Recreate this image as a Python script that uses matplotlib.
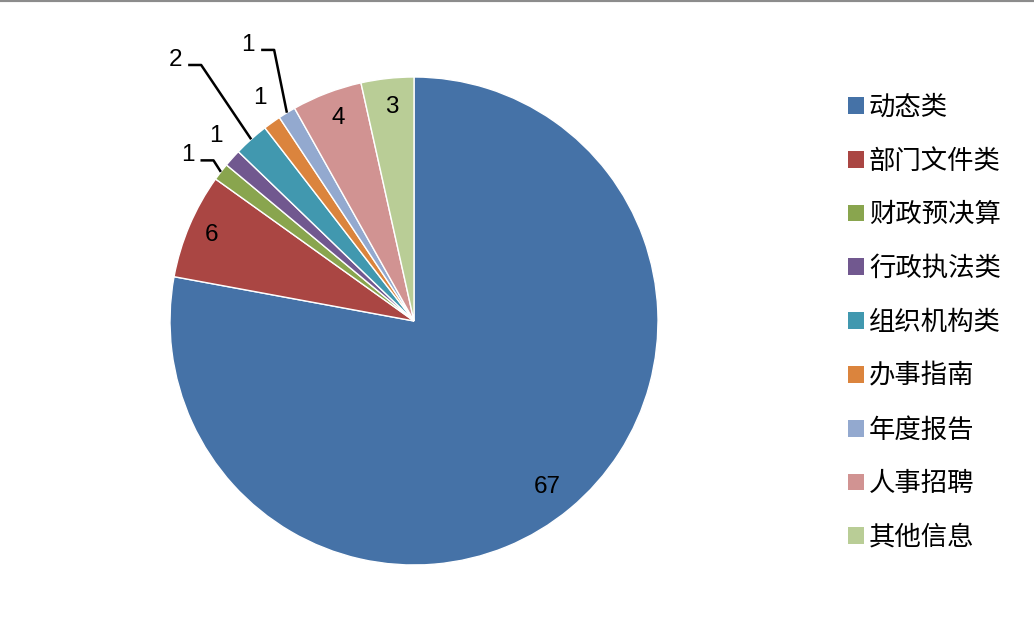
import numpy as np
import matplotlib
matplotlib.use("Agg")
import matplotlib.pyplot as plt
from matplotlib.patches import Patch

plt.rcParams['font.family'] = ['Noto Sans CJK SC', 'DejaVu Sans']

# data
categories = ["动态类", "部门文件类", "财政预决算", "行政执法类", "组织机构类",
              "办事指南", "年度报告", "人事招聘", "其他信息"]
counts = [67, 6, 1, 1, 2, 1, 1, 4, 3]
colors = ["#4572A7", "#AA4643", "#89A54E", "#71588F", "#4198AF",
          "#DB843D", "#93A9CF", "#D19392", "#B9CD96"]

# label layout: radius (fraction of R), angle tweak (deg), leader line or not
label_r = [0.87, 0.90, 1.15, 1.11, 1.45, 1.11, 1.32, 0.89, 0.88]
label_da = [-1.0, 0.0, 1.5, -1.2, 0.6, -1.0, -0.4, -0.4, -0.3]
leader = [False, False, True, False, True, False, True, False, False]

W, H = 1034, 631
fig = plt.figure(figsize=(W / 100, H / 100), dpi=100)
ax = fig.add_axes([0, 0, 1, 1])

cx, cy, R = 414, 310, 244
wedges, _ = ax.pie(counts, colors=colors, startangle=90, counterclock=False,
                   center=(cx, cy), radius=R, frame=True,
                   wedgeprops=dict(edgecolor='white', linewidth=1))
ax.set_xlim(0, W)
ax.set_ylim(0, H)
ax.set_aspect('equal')
ax.axis('off')

for w, n, r, da, ld in zip(wedges, counts, label_r, label_da, leader):
    mid = np.deg2rad((w.theta1 + w.theta2) / 2 + da)
    mid0 = np.deg2rad((w.theta1 + w.theta2) / 2)
    lx, ly = cx + r * R * np.cos(mid), cy + r * R * np.sin(mid)
    ax.text(lx, ly, str(n), ha='center', va='center', fontsize=17.5,
            family='Liberation Sans', color='black')
    if ld:
        # leader line: short horizontal stub, then down to the wedge edge
        ex, ey = cx + R * np.cos(mid0), cy + R * np.sin(mid0)
        ax.plot([lx + 13, lx + 26, ex], [ly - 5, ly - 5, ey],
                color='black', lw=1.8, solid_capstyle='butt')

handles = [Patch(facecolor=c, edgecolor='none') for c in colors]
leg = fig.legend(handles, categories, loc='upper left',
                 bbox_to_anchor=(824 / W, 1 - 70 / H), frameon=False,
                 fontsize=19, handlelength=0.6, handleheight=0.6,
                 handletextpad=0.2, labelspacing=1.015)

fig.add_artist(plt.Line2D([0, 1], [1, 1], transform=fig.transFigure,
                          color='#8c8c8c', lw=3))

fig.savefig("out.png", dpi=100)
